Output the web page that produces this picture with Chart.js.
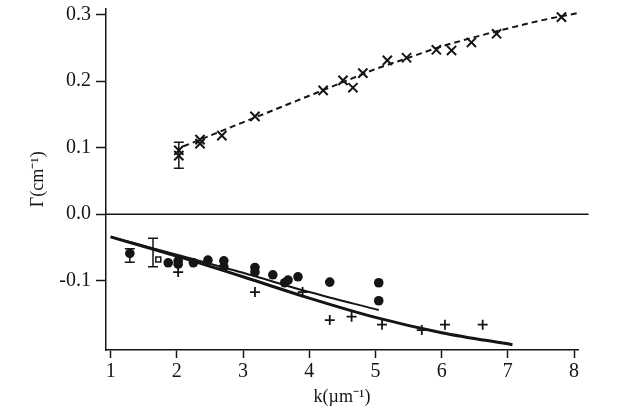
<!DOCTYPE html>
<html>
<head>
<meta charset="utf-8">
<script src="https://cdn.jsdelivr.net/npm/chart.js"></script>
<style>
    html, body { margin: 0; padding: 0; background: #fff; }
</style>
</head>
<body>
<canvas id="gammaChart" width="620" height="414"></canvas>
<script>
    // upper branch: x markers and the dashed fit
    const crossK = [2.03, 2.03, 2.35, 2.35, 2.68, 3.18, 4.21, 4.51, 4.66, 4.81, 5.18, 5.47, 5.92, 6.15, 6.45, 6.83, 7.81];
    const crossG = [0.088, 0.096, 0.106, 0.112, 0.118, 0.147, 0.186, 0.201, 0.190, 0.212, 0.231, 0.235, 0.247, 0.246, 0.258, 0.271, 0.296];
    const dashK = [2.1, 2.5, 3.0, 3.5, 4.0, 4.5, 5.0, 5.5, 6.0, 6.5, 7.0, 7.5, 8.05];
    const dashG = [0.102, 0.118, 0.138, 0.158, 0.178, 0.198, 0.218, 0.235, 0.252, 0.266, 0.279, 0.291, 0.302];

    // lower branch: dots, pluses, one open marker, two solid curves
    const dotK = [1.29, 1.87, 2.02, 2.02, 2.25, 2.47, 2.71, 2.71, 3.18, 3.18, 3.45, 3.63, 3.68, 3.83, 4.31, 5.05, 5.05];
    const dotG = [-0.059, -0.073, -0.070, -0.075, -0.073, -0.069, -0.070, -0.079, -0.080, -0.087, -0.091, -0.103, -0.099, -0.094, -0.102, -0.103, -0.130];
    const plusK = [2.02, 3.18, 3.9, 4.31, 4.64, 5.1, 5.7, 6.05, 6.62];
    const plusG = [-0.087, -0.117, -0.117, -0.159, -0.154, -0.166, -0.174, -0.166, -0.166];
    const openK = [1.72];
    const openG = [-0.068];
    const thickK = [1, 2, 3, 4, 5, 6, 7.07];
    const thickG = [-0.034, -0.063, -0.094, -0.126, -0.155, -0.178, -0.196];
    const thinK = [1, 2, 3, 4, 5.05];
    const thinG = [-0.034, -0.061, -0.088, -0.117, -0.144];
    const zeroK = [0.93, 8.22];
    const zeroG = [0, 0];

    // error bars
    const errK = [2.03, 1.29, 1.64];
    const errLo = [0.069, -0.072, -0.079];
    const errHi = [0.108, -0.052, -0.036];

    const xTicks = [1, 2, 3, 4, 5, 6, 7, 8];
    const yTicks = [-0.1, 0.0, 0.1, 0.2, 0.3];

    const ink = '#151515';
    const serif = 'Liberation Serif';

    function pts(ks, gs) {
        return ks.map((k, i) => ({ x: k, y: gs[i] }));
    }

    const errorSets = errK.map((k, i) => ({
        data: [{ x: k, y: errLo[i] }, { x: k, y: errHi[i] }],
        showLine: true,
        borderColor: ink,
        borderWidth: 1.5,
        pointStyle: 'line',
        pointRadius: 5,
        pointBorderWidth: 1.5,
        pointBorderColor: ink,
    }));

    new Chart(document.getElementById('gammaChart'), {
        type: 'scatter',
        data: {
            datasets: [
                { data: pts(zeroK, zeroG), showLine: true, borderColor: ink, borderWidth: 1.5, pointRadius: 0, clip: false },
                { data: pts(dashK, dashG), showLine: true, borderColor: ink, borderWidth: 2, borderDash: [6, 4], pointRadius: 0, cubicInterpolationMode: 'monotone' },
                { data: pts(thickK, thickG), showLine: true, borderColor: ink, borderWidth: 3, pointRadius: 0, cubicInterpolationMode: 'monotone' },
                { data: pts(thinK, thinG), showLine: true, borderColor: ink, borderWidth: 2, pointRadius: 0, cubicInterpolationMode: 'monotone' },
                { data: pts(crossK, crossG), pointStyle: 'crossRot', pointRadius: 6.5, pointBorderWidth: 2, pointBorderColor: ink },
                { data: pts(plusK, plusG), pointStyle: 'cross', pointRadius: 5, pointBorderWidth: 1.8, pointBorderColor: ink },
                { data: pts(dotK, dotG), pointStyle: 'circle', pointRadius: 4.8, pointBorderWidth: 0, pointBackgroundColor: ink },
                { data: pts(openK, openG), pointStyle: 'rect', pointRadius: 3.5, pointBorderWidth: 1.5, pointBorderColor: ink, pointBackgroundColor: '#fff' },
                ...errorSets,
            ],
        },
        options: {
            responsive: false,
            animation: false,
            events: [],
            layout: { padding: { left: 0, top: 0, right: 42, bottom: 0 } },
            plugins: { legend: { display: false }, tooltip: { enabled: false } },
            scales: {
                x: {
                    type: 'linear',
                    min: 0.93,
                    max: 8.06,
                    afterBuildTicks: (s) => { s.ticks = xTicks.map((v) => ({ value: v })); },
                    afterFit: (s) => { s.height = 64; s.paddingLeft = 0; s.paddingRight = 0; },
                    grid: { drawOnChartArea: false, drawTicks: true, tickLength: 8, tickColor: ink, tickWidth: 1.5 },
                    border: { display: true, color: ink, width: 1.5 },
                    ticks: { color: ink, font: { family: serif, size: 20 }, padding: 2, autoSkip: false, maxRotation: 0 },
                    title: { display: true, text: 'k(µm⁻¹)', color: ink, font: { family: serif, size: 18 }, padding: { top: 0, bottom: 6 } },
                },
                y: {
                    type: 'linear',
                    min: -0.204,
                    max: 0.309,
                    afterBuildTicks: (s) => { s.ticks = yTicks.map((v) => ({ value: v })); },
                    afterFit: (s) => { s.width = 106; s.paddingTop = 0; s.paddingBottom = 0; },
                    grid: { drawOnChartArea: false, drawTicks: true, tickLength: 10, tickColor: ink, tickWidth: 1.5 },
                    border: { display: true, color: ink, width: 1.5 },
                    ticks: { color: ink, font: { family: serif, size: 20 }, padding: 5, callback: (v) => v.toFixed(1) },
                    title: { display: true, text: 'Γ(cm⁻¹)', color: ink, font: { family: serif, size: 18 }, padding: { top: 27, bottom: 0 } },
                },
            },
        },
    });
</script>
</body>
</html>
